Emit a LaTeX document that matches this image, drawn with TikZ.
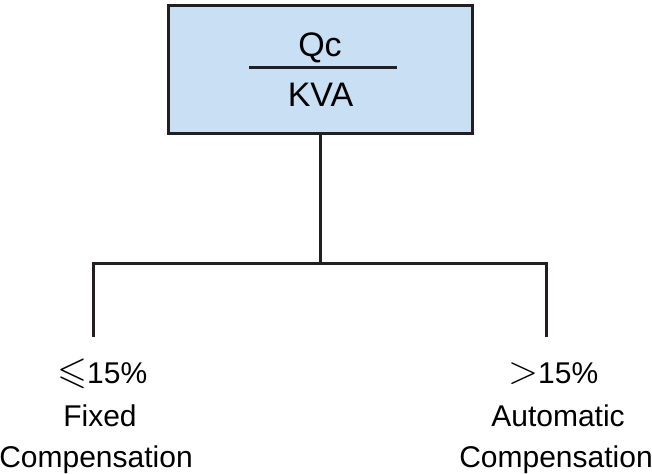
\documentclass[tikz,border=0pt]{standalone}
\usepackage{amssymb}
\usepackage{graphicx}
\usepackage{fontspec}
\setmainfont{Liberation Sans}
\definecolor{boxblue}{HTML}{C9DFF3}
\definecolor{ink}{HTML}{231F20}
\newcommand{\symle}{\resizebox{30pt}{!}{$\leqslant$}}
\newcommand{\symgt}{\resizebox{30pt}{!}{$>$}}
\tikzset{
    box/.style={draw=ink, line width=3pt, fill=boxblue, rectangle, minimum height=128pt, minimum width=304pt, inner sep=0pt},
    big/.style={anchor=base, inner sep=0pt, font=\fontsize{34}{40}\selectfont},
    lbl/.style={anchor=base, inner sep=0pt, font=\fontsize{30}{36}\selectfont},
    wire/.style={draw=ink, line width=3pt}
}

\begin{document}
\begin{tikzpicture}[x=1pt, y=-1pt]
    \useasboundingbox (0,0) rectangle (652,473);

    \node[box] (ratio) at (320,70) {};
    \node[big] (qc) at (320,57) {Qc};
    \node[big] (kva) at (320.5,107) {KVA};
    \coordinate (barl) at (249,68);
    \coordinate (barr) at (397,68);
    \draw[wire] (barl) -- (barr);

    \coordinate (splitl) at (93,263);
    \coordinate (splitr) at (546,263);
    \coordinate (endl) at (93,337);
    \coordinate (endr) at (546,337);
    \draw[wire] (ratio.south) -- (ratio.south |- splitl);
    \draw[wire] (endl) -- (splitl) -- (splitr) -- (endr);

    \node[lbl, anchor=base west] (lowpct) at (57,383) {\symle15\%};
    \node[lbl] (fixed) at (100,426) {Fixed};
    \node[lbl] (fixcomp) at (96,467) {Compensation};
    \node[lbl, anchor=base west] (highpct) at (508,383) {\symgt15\%};
    \node[lbl] (auto) at (558,426) {Automatic};
    \node[lbl] (autocomp) at (556,467) {Compensation};
\end{tikzpicture}
\end{document}
